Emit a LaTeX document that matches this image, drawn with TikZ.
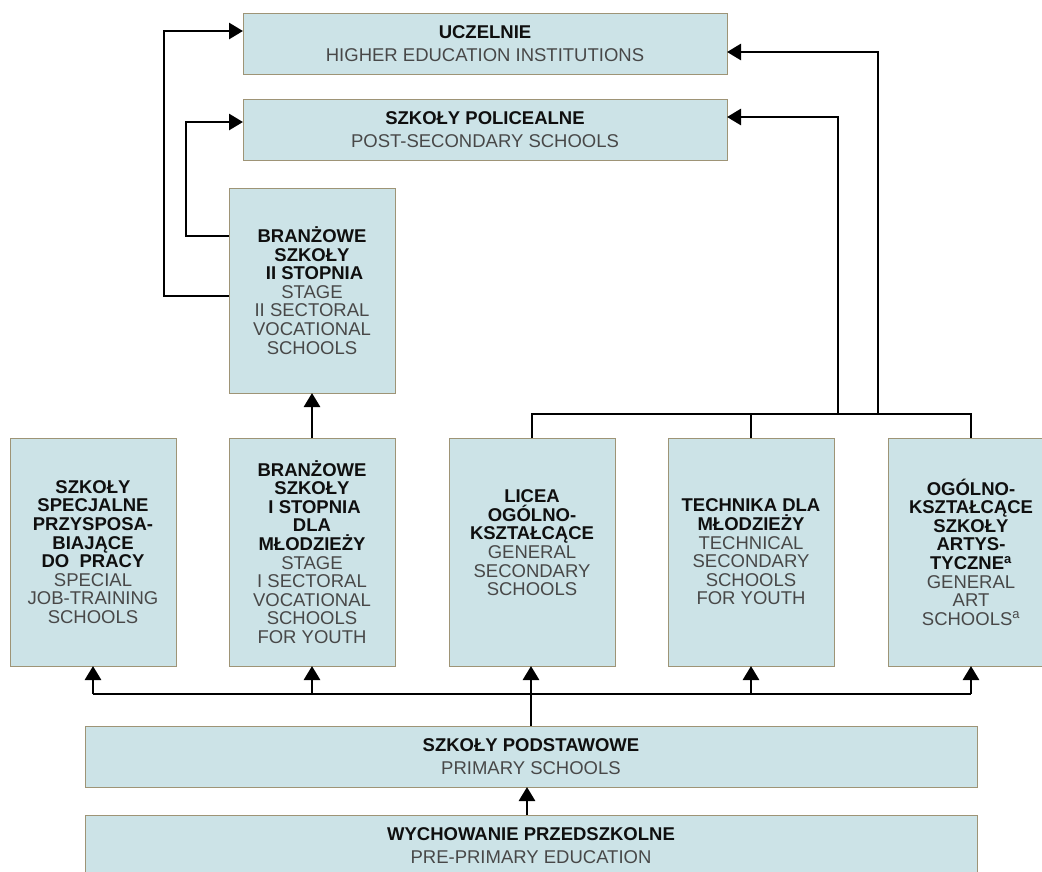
\documentclass[tikz,border=0pt]{standalone}
\usepackage{fontspec}
\setmainfont{Liberation Sans}
\usetikzlibrary{arrows.meta,calc}
\definecolor{boxfill}{RGB}{204,227,231}
\definecolor{boxline}{RGB}{158,148,118}
\definecolor{engray}{RGB}{72,72,72}
\definecolor{plblack}{RGB}{15,15,15}
\newcommand\pl[1]{{\bfseries\color{plblack}#1}}
\begin{document}
\begin{tikzpicture}[x=1pt,y=-1pt,
  box/.style={draw=boxline,fill=boxfill,line width=1pt,inner sep=0pt,outer sep=0pt,
    align=center,text=engray},
  widebox/.style={box,minimum width=484pt,minimum height=61pt,
    font=\fontsize{18.5}{22.5}\selectfont},
  tallbox/.style={box,minimum width=166pt,minimum height=228pt,
    font=\fontsize{18.5}{18.6}\selectfont},
  conn/.style={line width=2.8pt,draw=black},
  arr/.style={conn,-{Triangle[length=14pt,width=16pt]}}]
\useasboundingbox (0,0) rectangle (1042,871);

% top boxes
\node[widebox] (uc) at (485,43.5) {\pl{UCZELNIE}\\HIGHER EDUCATION INSTITUTIONS};
\node[widebox] (pol) at (485,129.5) {\pl{SZKOŁY POLICEALNE}\\POST-SECONDARY SCHOOLS};
\node[tallbox,minimum height=205pt] (b2) at (312,290.5)
  {\pl{BRANŻOWE}\\\pl{SZKOŁY}\\\pl{\ II STOPNIA}\\STAGE\\II SECTORAL\\VOCATIONAL\\SCHOOLS};

% middle row
\node[tallbox] (s1) at (93,552)
  {\pl{SZKOŁY}\\\pl{SPECJALNE}\\\pl{PRZYSPOSA-}\\\pl{BIAJĄCE}\\\pl{DO\ \ PRACY}\\SPECIAL\\JOB-TRAINING\\SCHOOLS};
\node[tallbox] (s2) at (312,552)
  {\pl{BRANŻOWE}\\\pl{SZKOŁY}\\\pl{\ I STOPNIA}\\\pl{DLA}\\\pl{MŁODZIEŻY}\\STAGE\\I SECTORAL\\VOCATIONAL\\SCHOOLS\\FOR YOUTH};
\node[tallbox] (s3) at (532,552)
  {\pl{LICEA}\\\pl{OGÓLNO-}\\\pl{KSZTAŁCĄCE}\\GENERAL\\SECONDARY\\SCHOOLS\\\mbox{}};
\node[tallbox] (s4) at (751,552)
  {\pl{TECHNIKA DLA}\\\pl{MŁODZIEŻY}\\TECHNICAL\\SECONDARY\\SCHOOLS\\FOR YOUTH};
\node[tallbox] (s5) at (971,552)
  {\pl{OGÓLNO-}\\\pl{KSZTAŁCĄCE}\\\pl{SZKOŁY}\\\pl{ARTYS-}\\\pl{TYCZNE\textsuperscript{a}}\\GENERAL\\ART\\SCHOOLS\textsuperscript{a}};

% bottom boxes
\node[widebox,minimum width=892pt] (prim) at (531,756.5) {\pl{SZKOŁY PODSTAWOWE}\\PRIMARY SCHOOLS};
\node[widebox,minimum width=892pt] (pre) at (531,845.5) {\pl{WYCHOWANIE PRZEDSZKOLNE}\\PRE-PRIMARY EDUCATION};

% connectors from stage II schools
\draw[arr] ($(b2.north west)+(0,108)$) -- ++(-65,0) |- ($(uc.north west)+(0,18)$);
\draw[arr] ($(b2.north west)+(0,48)$) -- ++(-43,0) |- ($(pol.north west)+(0,23)$);
\draw[arr] (s2.north) -- (b2.south);

% upper bus
\coordinate (ubus) at (0,414);
\coordinate (up1) at (838,414);
\coordinate (up2) at (878,414);
\draw[conn] (s3.north) -- (s3.north |- ubus) -- (s5.north |- ubus) -- (s5.north);
\draw[conn] (s4.north) -- (s4.north |- ubus);
\draw[arr] (up1) |- ($(pol.north east)+(0,18)$);
\draw[arr] (up2) |- ($(uc.north east)+(0,39)$);

% lower bus
\coordinate (lbus) at (0,694);
\draw[conn] (s1.south |- lbus) -- (s5.south |- lbus);
\draw[arr] (s1.south |- lbus) -- (s1.south);
\draw[arr] (s2.south |- lbus) -- (s2.south);
\draw[arr] (s4.south |- lbus) -- (s4.south);
\draw[arr] (s5.south |- lbus) -- (s5.south);
\draw[arr] (prim.north) -- (prim.north |- s3.south);
\draw[arr] ($(pre.north)+(-4,0)$) -- ($(prim.south)+(-4,0)$);
\end{tikzpicture}
\end{document}
